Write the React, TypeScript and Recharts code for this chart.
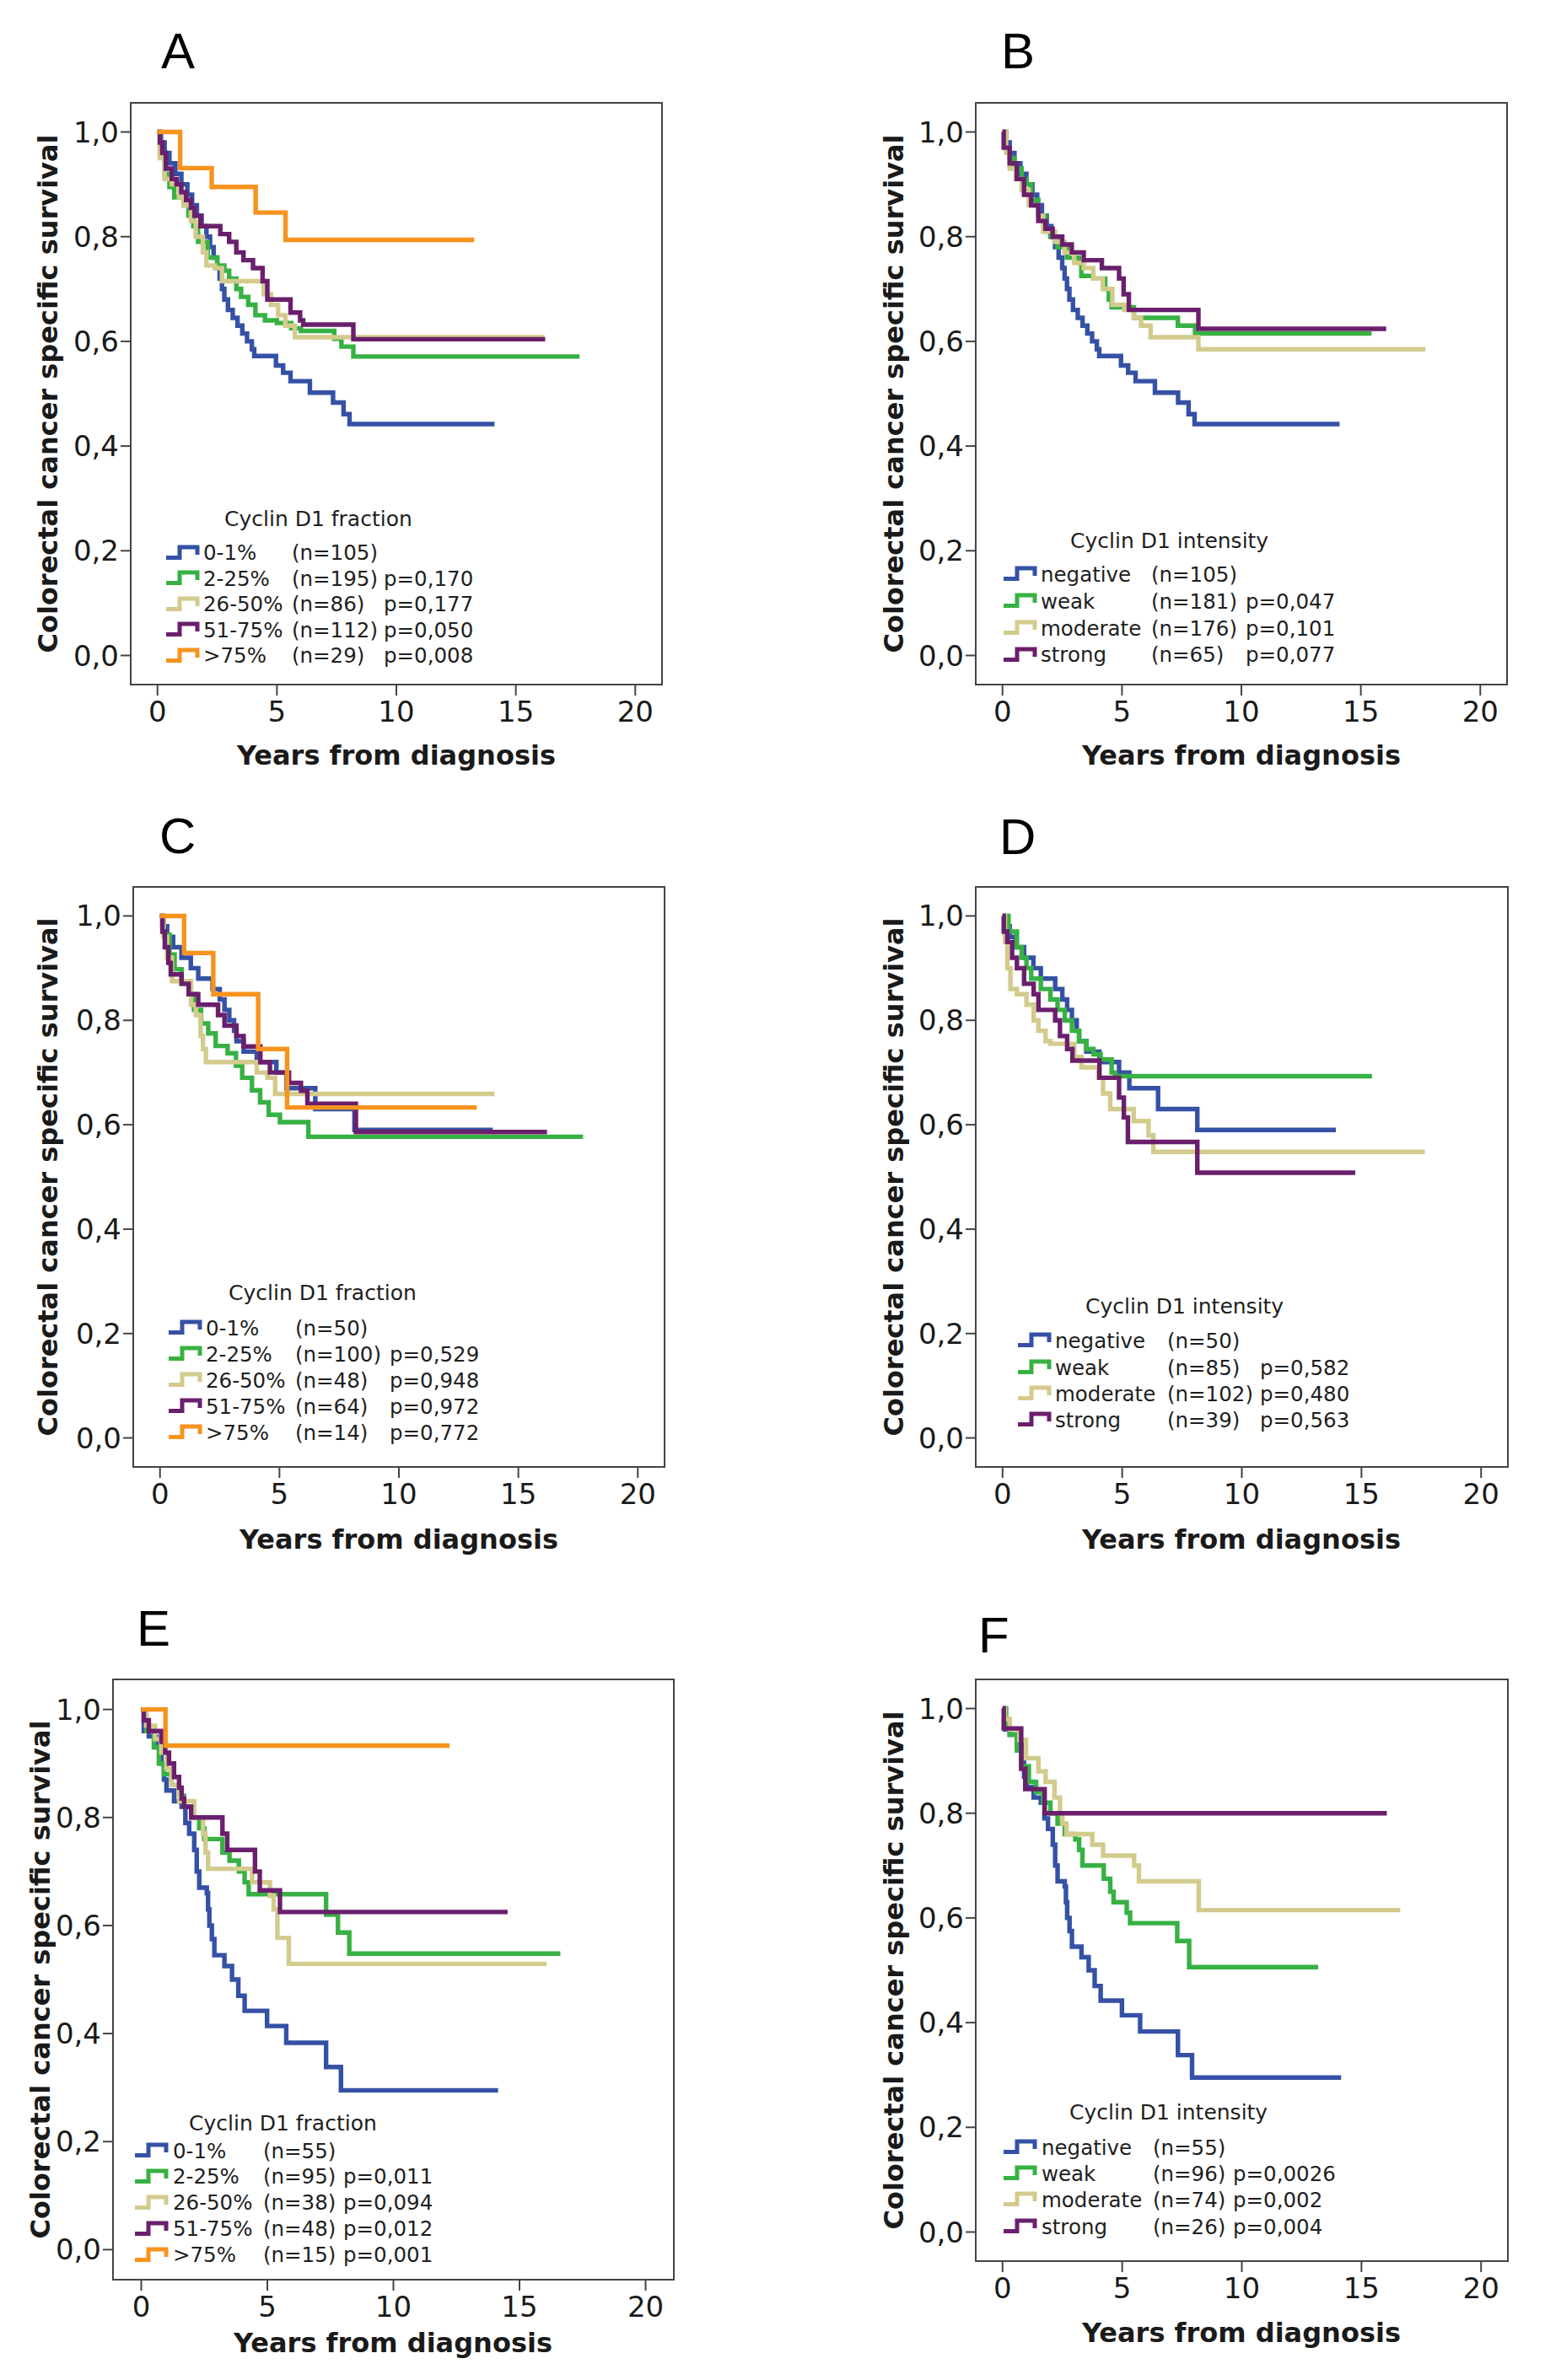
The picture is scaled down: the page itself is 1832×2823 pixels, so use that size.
import React from 'react';
import { LineChart, Line, XAxis, YAxis, Legend, ReferenceArea } from 'recharts';

type Pair = [number, number];

// Kaplan-Meier steps: [years from diagnosis, survival]
// negative / 0-1% groups are the same patients in the two panels of a row
const neg105: Pair[] = [[0, 1], [0.15, 0.98], [0.3, 0.96], [0.5, 0.94], [0.75, 0.92], [1.0, 0.9], [1.25, 0.88], [1.45, 0.86], [1.65, 0.84], [1.85, 0.82], [2.05, 0.8], [2.2, 0.78], [2.35, 0.76], [2.5, 0.74], [2.6, 0.72], [2.7, 0.7], [2.8, 0.68], [2.95, 0.66], [3.15, 0.645], [3.35, 0.63], [3.55, 0.615], [3.75, 0.6], [3.95, 0.585], [4.05, 0.572], [4.96, 0.554], [5.26, 0.54], [5.57, 0.524], [6.38, 0.502], [7.35, 0.483], [7.79, 0.461], [8.04, 0.442], [14.11, 0.442]];
const neg50: Pair[] = [[0, 1], [0.1, 0.98], [0.3, 0.96], [0.55, 0.94], [0.9, 0.92], [1.29, 0.9], [1.6, 0.88], [2.2, 0.86], [2.5, 0.84], [2.7, 0.82], [2.9, 0.8], [3.1, 0.78], [3.2, 0.76], [3.5, 0.74], [4.05, 0.72], [4.87, 0.7], [5.3, 0.67], [6.5, 0.63], [8.14, 0.59], [13.93, 0.59]];
const neg55: Pair[] = [[0, 1], [0.1, 0.96], [0.3, 0.95], [0.6, 0.93], [0.8, 0.9], [0.9, 0.87], [1.0, 0.85], [1.3, 0.83], [1.6, 0.82], [1.75, 0.79], [1.9, 0.77], [2.1, 0.74], [2.2, 0.7], [2.3, 0.67], [2.6, 0.66], [2.65, 0.63], [2.7, 0.6], [2.8, 0.575], [2.9, 0.545], [3.3, 0.525], [3.6, 0.5], [3.85, 0.47], [4.1, 0.442], [4.99, 0.414], [5.75, 0.383], [7.33, 0.338], [7.92, 0.295], [14.15, 0.295]];

// A - fraction, all patients
const aGreen: Pair[] = [[0, 1], [0.1, 0.96], [0.3, 0.92], [0.5, 0.895], [0.7, 0.875], [1.1, 0.86], [1.3, 0.84], [1.5, 0.82], [1.7, 0.79], [2.1, 0.76], [2.5, 0.745], [2.8, 0.735], [3.0, 0.72], [3.3, 0.7], [3.5, 0.685], [3.8, 0.67], [4.1, 0.65], [4.5, 0.64], [5.0, 0.635], [5.6, 0.625], [6.0, 0.62], [7.4, 0.605], [7.7, 0.59], [8.2, 0.571], [17.67, 0.571]];
const aBeige: Pair[] = [[0, 1], [0.1, 0.95], [0.3, 0.91], [0.6, 0.9], [0.9, 0.875], [1.1, 0.86], [1.4, 0.83], [1.6, 0.8], [1.9, 0.77], [2.05, 0.745], [2.4, 0.74], [2.7, 0.715], [4.45, 0.69], [4.75, 0.67], [5.05, 0.65], [5.35, 0.63], [5.75, 0.608], [16.2, 0.608]];
const aPurple: Pair[] = [[0, 1], [0.1, 0.98], [0.2, 0.96], [0.35, 0.93], [0.6, 0.91], [0.8, 0.9], [1.0, 0.885], [1.2, 0.87], [1.4, 0.855], [1.55, 0.84], [1.8, 0.82], [2.63, 0.805], [3.0, 0.79], [3.3, 0.77], [3.6, 0.755], [4.0, 0.74], [4.4, 0.715], [4.6, 0.68], [5.57, 0.655], [5.97, 0.64], [6.1, 0.632], [8.2, 0.604], [16.23, 0.604]];
const aOrange: Pair[] = [[0, 1], [0.95, 0.931], [2.27, 0.895], [4.11, 0.846], [5.36, 0.794], [13.26, 0.794]];

// B - intensity, all patients
const bGreen: Pair[] = [[0, 1], [0.1, 0.97], [0.3, 0.95], [0.5, 0.93], [0.8, 0.91], [1.0, 0.9], [1.2, 0.87], [1.5, 0.84], [1.8, 0.81], [2.0, 0.8], [2.3, 0.78], [2.7, 0.76], [3.2, 0.75], [3.3, 0.725], [3.8, 0.72], [4.3, 0.7], [4.45, 0.68], [4.57, 0.665], [5.5, 0.645], [7.34, 0.63], [8.06, 0.615], [15.45, 0.615]];
const bBeige: Pair[] = [[0, 1], [0.15, 0.96], [0.3, 0.93], [0.55, 0.91], [0.8, 0.89], [1.1, 0.86], [1.5, 0.84], [1.7, 0.81], [2.2, 0.79], [2.6, 0.77], [3.0, 0.75], [3.4, 0.74], [3.8, 0.72], [4.2, 0.7], [4.6, 0.67], [5.1, 0.66], [5.5, 0.645], [5.8, 0.63], [6.2, 0.608], [8.2, 0.585], [17.7, 0.585]];
const bPurple: Pair[] = [[0, 1], [0.05, 0.97], [0.3, 0.94], [0.6, 0.91], [0.9, 0.88], [1.2, 0.86], [1.5, 0.83], [1.8, 0.815], [2.1, 0.8], [2.5, 0.785], [2.9, 0.77], [3.4, 0.755], [4.16, 0.74], [4.88, 0.72], [5.07, 0.69], [5.29, 0.66], [8.2, 0.624], [16.06, 0.624]];

// C - fraction, subgroup
const cGreen: Pair[] = [[0, 1], [0.16, 0.964], [0.4, 0.926], [0.61, 0.898], [0.91, 0.87], [1.21, 0.85], [1.42, 0.82], [1.72, 0.794], [2.02, 0.775], [2.33, 0.751], [2.83, 0.737], [3.18, 0.713], [3.44, 0.69], [3.85, 0.666], [4.19, 0.643], [4.55, 0.619], [5.02, 0.605], [6.21, 0.577], [17.71, 0.577]];
const cBeige: Pair[] = [[0, 1], [0.15, 0.96], [0.3, 0.92], [0.5, 0.875], [1.3, 0.83], [1.5, 0.81], [1.7, 0.77], [1.8, 0.745], [1.92, 0.72], [4.05, 0.7], [4.5, 0.69], [4.82, 0.659], [14.0, 0.659]];
const cPurple: Pair[] = [[0, 1], [0.1, 0.97], [0.2, 0.94], [0.35, 0.91], [0.45, 0.888], [0.9, 0.87], [1.2, 0.85], [1.6, 0.83], [2.43, 0.81], [2.7, 0.79], [3.2, 0.77], [3.5, 0.75], [4.2, 0.72], [4.6, 0.7], [5.4, 0.68], [5.9, 0.665], [6.17, 0.64], [8.2, 0.586], [16.2, 0.586]];
const cOrange: Pair[] = [[0, 1], [1.01, 0.929], [2.23, 0.85], [4.11, 0.745], [5.32, 0.633], [13.26, 0.633]];

// D - intensity, subgroup
const dGreen: Pair[] = [[0, 1], [0.25, 0.97], [0.6, 0.94], [0.8, 0.92], [1.0, 0.9], [1.2, 0.88], [1.6, 0.86], [2.0, 0.84], [2.3, 0.82], [2.6, 0.8], [2.9, 0.78], [3.2, 0.76], [3.5, 0.745], [3.8, 0.735], [4.1, 0.725], [4.56, 0.7], [4.7, 0.693], [15.44, 0.693]];
const dBeige: Pair[] = [[0, 1], [0.1, 0.95], [0.2, 0.9], [0.33, 0.86], [0.6, 0.85], [1.0, 0.83], [1.3, 0.8], [1.5, 0.78], [1.8, 0.76], [2.0, 0.755], [3.0, 0.73], [3.3, 0.71], [4.0, 0.69], [4.2, 0.66], [4.5, 0.63], [5.48, 0.607], [6.1, 0.58], [6.3, 0.548], [17.65, 0.548]];
const dPurple: Pair[] = [[0, 1], [0.05, 0.97], [0.2, 0.95], [0.4, 0.92], [0.6, 0.9], [0.9, 0.87], [1.3, 0.85], [1.5, 0.82], [2.2, 0.8], [2.4, 0.77], [2.7, 0.745], [2.92, 0.723], [4.05, 0.69], [4.87, 0.652], [5.07, 0.614], [5.24, 0.567], [8.14, 0.508], [14.74, 0.508]];

// E - fraction, second subgroup
const eGreen: Pair[] = [[0, 1], [0.2, 0.96], [0.5, 0.93], [0.7, 0.9], [0.9, 0.88], [1.2, 0.86], [1.5, 0.84], [1.7, 0.82], [2.0, 0.8], [2.3, 0.78], [2.5, 0.76], [3.22, 0.735], [3.5, 0.72], [3.87, 0.7], [4.1, 0.68], [4.26, 0.658], [7.33, 0.62], [7.8, 0.587], [8.25, 0.548], [16.62, 0.548]];
const eBeige: Pair[] = [[0, 1], [0.2, 0.97], [0.55, 0.945], [0.8, 0.92], [1.0, 0.89], [1.2, 0.86], [1.5, 0.83], [2.1, 0.8], [2.45, 0.77], [2.55, 0.735], [2.65, 0.705], [4.4, 0.68], [5.1, 0.655], [5.25, 0.63], [5.4, 0.577], [5.85, 0.529], [16.07, 0.529]];
const ePurple: Pair[] = [[0, 1], [0.1, 0.98], [0.3, 0.96], [0.8, 0.94], [0.95, 0.92], [1.1, 0.9], [1.3, 0.875], [1.5, 0.855], [1.6, 0.835], [1.7, 0.82], [1.98, 0.8], [3.22, 0.77], [3.41, 0.74], [4.51, 0.7], [4.7, 0.665], [5.5, 0.625], [14.53, 0.625]];
const eOrange: Pair[] = [[0, 1], [0.96, 0.933], [12.23, 0.933]];

// F - intensity, second subgroup
const fGreen: Pair[] = [[0, 1], [0.15, 0.97], [0.3, 0.95], [0.6, 0.92], [0.78, 0.89], [1.1, 0.86], [1.4, 0.84], [1.7, 0.82], [2.0, 0.8], [2.3, 0.78], [2.6, 0.76], [3.04, 0.75], [3.2, 0.73], [3.34, 0.7], [4.23, 0.675], [4.5, 0.65], [4.64, 0.63], [5.19, 0.61], [5.33, 0.59], [7.3, 0.556], [7.8, 0.506], [13.19, 0.506]];
const fBeige: Pair[] = [[0, 1], [0.1, 0.98], [0.3, 0.96], [0.7, 0.94], [0.98, 0.905], [1.5, 0.88], [1.8, 0.86], [2.17, 0.83], [2.4, 0.8], [2.5, 0.78], [2.67, 0.76], [3.75, 0.74], [4.2, 0.719], [5.5, 0.7], [5.7, 0.67], [8.2, 0.615], [16.62, 0.615]];
const fPurple: Pair[] = [[0, 1], [0.05, 0.962], [0.78, 0.885], [0.95, 0.846], [1.76, 0.8], [16.06, 0.8]];

// legend texts
const fractionLabels = ['0-1%', '2-25%', '26-50%', '51-75%', '>75%'];
const intensityLabels = ['negative', 'weak', 'moderate', 'strong'];
const nA = ['(n=105)', '(n=195)', '(n=86)', '(n=112)', '(n=29)'];
const pA = ['', 'p=0,170', 'p=0,177', 'p=0,050', 'p=0,008'];
const nB = ['(n=105)', '(n=181)', '(n=176)', '(n=65)'];
const pB = ['', 'p=0,047', 'p=0,101', 'p=0,077'];
const nC = ['(n=50)', '(n=100)', '(n=48)', '(n=64)', '(n=14)'];
const pC = ['', 'p=0,529', 'p=0,948', 'p=0,972', 'p=0,772'];
const nD = ['(n=50)', '(n=85)', '(n=102)', '(n=39)'];
const pD = ['', 'p=0,582', 'p=0,480', 'p=0,563'];
const nE = ['(n=55)', '(n=95)', '(n=38)', '(n=48)', '(n=15)'];
const pE = ['', 'p=0,011', 'p=0,094', 'p=0,012', 'p=0,001'];
const nF = ['(n=55)', '(n=96)', '(n=74)', '(n=26)'];
const pF = ['', 'p=0,0026', 'p=0,002', 'p=0,004'];

const xTicks = [0, 5, 10, 15, 20];
const yTicks = [0, 0.2, 0.4, 0.6, 0.8, 1];

const COLORS = ['#3551a5', '#37b143', '#d3cb8d', '#6a1f6c', '#f7931e'];
const X_DOMAIN: [number, number] = [-1.12, 21.12];
const Y_DOMAIN: [number, number] = [-0.0556, 1.0556];

// space around the plot box inside each chart
const ML = 120, MT = 20, MR = 20, MB = 120, YW = 60, XH = 60;

const toPts = (a: Pair[]) => a.map(([t, s]) => ({ t, s }));

interface LegendPos { icon: number; label: number; n: number; p: number; title: number; titleY: number; row0: number; step: number }
interface PanelCfg {
  letter: string;
  box: { x: number; y: number; w: number; h: number };
  letterPos: { x: number; y: number };
  yTitle: { x: number; y: number };
  xTitle: { x: number; y: number };
  legendTitle: string;
  labels: string[];
  ns: string[];
  ps: string[];
  series: Pair[][];
  legend: LegendPos;
}

const panels: PanelCfg[] = [
  {
    letter: 'A', box: { x: 155, y: 122, w: 630, h: 690 }, letterPos: { x: 191, y: 31 },
    yTitle: { x: 57, y: 467 }, xTitle: { x: 470, y: 896 },
    legendTitle: 'Cyclin D1 fraction', labels: fractionLabels, ns: nA, ps: pA,
    series: [neg105, aGreen, aBeige, aPurple, aOrange],
    legend: { icon: 41, label: 86, n: 191, p: 300, title: 111, titleY: 493.5, row0: 534.5, step: 30.4 },
  },
  {
    letter: 'B', box: { x: 1157, y: 122, w: 630, h: 690 }, letterPos: { x: 1187, y: 31 },
    yTitle: { x: 1060, y: 467 }, xTitle: { x: 1472, y: 896 },
    legendTitle: 'Cyclin D1 intensity', labels: intensityLabels, ns: nB, ps: pB,
    series: [neg105, bGreen, bBeige, bPurple],
    legend: { icon: 32, label: 77, n: 208, p: 320, title: 112, titleY: 520, row0: 560, step: 31.7 },
  },
  {
    letter: 'C', box: { x: 158, y: 1052, w: 630, h: 688 }, letterPos: { x: 189, y: 962 },
    yTitle: { x: 57, y: 1396 }, xTitle: { x: 473, y: 1826 },
    legendTitle: 'Cyclin D1 fraction', labels: fractionLabels, ns: nC, ps: pC,
    series: [neg50, cGreen, cBeige, cPurple, cOrange],
    legend: { icon: 41, label: 86, n: 192, p: 304, title: 113, titleY: 482, row0: 523.4, step: 31.05 },
  },
  {
    letter: 'D', box: { x: 1157, y: 1052, w: 631, h: 688 }, letterPos: { x: 1185, y: 963 },
    yTitle: { x: 1060, y: 1396 }, xTitle: { x: 1472, y: 1826 },
    legendTitle: 'Cyclin D1 intensity', labels: intensityLabels, ns: nD, ps: pD,
    series: [neg50, dGreen, dBeige, dPurple],
    legend: { icon: 49, label: 94, n: 227, p: 337, title: 130, titleY: 498, row0: 539, step: 31.3 },
  },
  {
    letter: 'E', box: { x: 134, y: 1992, w: 665, h: 712 }, letterPos: { x: 162, y: 1902 },
    yTitle: { x: 48, y: 2348 }, xTitle: { x: 466, y: 2779 },
    legendTitle: 'Cyclin D1 fraction', labels: fractionLabels, ns: nE, ps: pE,
    series: [neg55, eGreen, eBeige, ePurple, eOrange],
    legend: { icon: 25, label: 71, n: 178, p: 273, title: 90, titleY: 527, row0: 560, step: 30.9 },
  },
  {
    letter: 'F', box: { x: 1157, y: 1992, w: 631, h: 690 }, letterPos: { x: 1160, y: 1910 },
    yTitle: { x: 1060, y: 2337 }, xTitle: { x: 1472, y: 2767 },
    legendTitle: 'Cyclin D1 intensity', labels: intensityLabels, ns: nF, ps: pF,
    series: [neg55, fGreen, fBeige, fPurple],
    legend: { icon: 32, label: 78, n: 210, p: 305, title: 111, titleY: 514, row0: 555.5, step: 31.2 },
  },
];

const KmLegend = ({ p }: { p: PanelCfg }) => {
  const L = p.legend;
  const rowTop = (i: number) => L.row0 - L.titleY + 16 - L.step / 2 + i * L.step;
  return (
    <div style={{ position: 'relative', width: 520, height: 200, fontFamily: 'DejaVu Sans', color: '#1e1e1e' }}>
      <div style={{ position: 'absolute', left: L.title - L.icon, top: 0, height: 32, lineHeight: '32px', fontSize: 25, whiteSpace: 'nowrap' }}>
        {p.legendTitle}
      </div>
      {p.labels.map((lab, i) => (
        <div key={lab} style={{ position: 'absolute', left: 0, top: rowTop(i), width: 520, height: L.step, lineHeight: `${L.step}px`, fontSize: 24.5, whiteSpace: 'nowrap' }}>
          <svg width={42} height={19} style={{ position: 'absolute', left: 0, top: (L.step - 19) / 2 - 1 }}>
            <path d="M1,15.5 H17 V3 H38 V12" fill="none" stroke={COLORS[i]} strokeWidth={5} />
          </svg>
          <span style={{ position: 'absolute', left: L.label - L.icon }}>{lab}</span>
          <span style={{ position: 'absolute', left: L.n - L.icon }}>{p.ns[i]}</span>
          <span style={{ position: 'absolute', left: L.p - L.icon }}>{p.ps[i]}</span>
        </div>
      ))}
    </div>
  );
};

const titleFont = { fontFamily: 'DejaVu Sans', fontWeight: 'bold' as const, fontSize: 32, color: '#1a1a1a', lineHeight: 1, whiteSpace: 'nowrap' as const };
const tickStyle = { fill: '#1a1a1a', fontSize: 34, fontFamily: 'DejaVu Sans' };

const KmPanel = ({ p }: { p: PanelCfg }) => {
  const { box } = p;
  const W = ML + box.w + MR;
  const H = MT + box.h + MB;
  return (
    <>
      <div style={{ position: 'absolute', left: p.letterPos.x, top: p.letterPos.y, fontFamily: 'Liberation Sans', fontSize: 60, lineHeight: 1, color: '#000' }}>
        {p.letter}
      </div>
      <div style={{ position: 'absolute', left: box.x - ML, top: box.y - MT }}>
        <LineChart width={W} height={H} margin={{ top: MT, right: MR, bottom: MB - XH, left: ML - YW }}>
          <XAxis
            dataKey="t"
            type="number"
            domain={X_DOMAIN}
            ticks={xTicks}
            interval={0}
            allowDataOverflow
            height={XH}
            axisLine={false}
            tickSize={13}
            tickMargin={7}
            tickLine={{ stroke: '#444', strokeWidth: 2 }}
            tick={tickStyle}
          />
          <YAxis
            type="number"
            domain={Y_DOMAIN}
            ticks={yTicks}
            interval={0}
            allowDataOverflow
            width={YW}
            axisLine={false}
            tickSize={12}
            tickMargin={2}
            tickLine={{ stroke: '#444', strokeWidth: 2 }}
            tick={tickStyle}
            tickFormatter={(v: number) => v.toFixed(1).replace('.', ',')}
          />
          <ReferenceArea
            x1={X_DOMAIN[0]}
            x2={X_DOMAIN[1]}
            y1={Y_DOMAIN[0]}
            y2={Y_DOMAIN[1]}
            fill="none"
            stroke="#444"
            strokeWidth={2}
            ifOverflow="visible"
          />
          {p.series.map((s, i) => (
            <Line
              key={p.labels[i]}
              data={toPts(s)}
              dataKey="s"
              name={p.labels[i]}
              type="stepAfter"
              stroke={COLORS[i]}
              strokeWidth={5.4}
              dot={false}
              activeDot={false}
              isAnimationActive={false}
            />
          ))}
          <Legend
            layout="vertical"
            verticalAlign="middle"
            align="center"
            wrapperStyle={{ left: ML + p.legend.icon, top: MT + p.legend.titleY - 16, width: 520, height: 200 }}
            content={() => <KmLegend p={p} />}
          />
        </LineChart>
      </div>
      <div style={{ ...titleFont, position: 'absolute', left: p.yTitle.x, top: p.yTitle.y, transform: 'translate(-50%, -50%) rotate(-90deg)' }}>
        Colorectal cancer specific survival
      </div>
      <div style={{ ...titleFont, position: 'absolute', left: p.xTitle.x, top: p.xTitle.y, transform: 'translate(-50%, -50%)' }}>
        Years from diagnosis
      </div>
    </>
  );
};

export default function App() {
  return (
    <div style={{ position: 'absolute', left: 0, top: 0, width: 1832, height: 2823, background: '#fff', overflow: 'hidden' }}>
      {panels.map((p) => (
        <KmPanel key={p.letter} p={p} />
      ))}
    </div>
  );
}
